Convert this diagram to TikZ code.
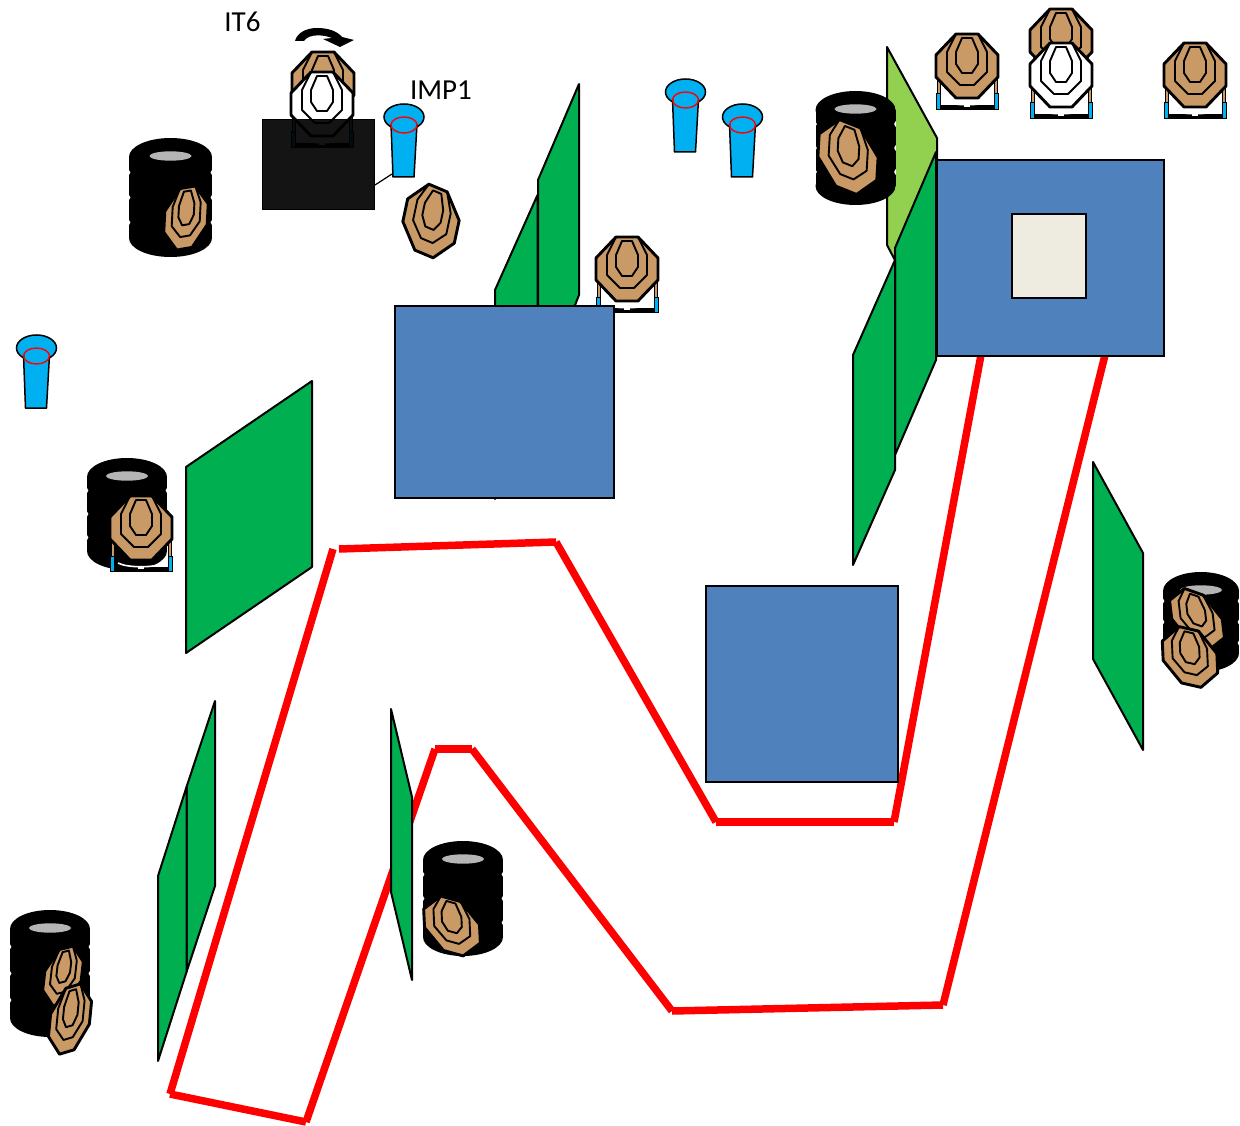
\documentclass[tikz,border=0pt]{standalone}
\usepackage{fontspec}
\setmainfont{Carlito}
\definecolor{tan}{HTML}{C99A66}
\definecolor{boxblue}{HTML}{4F81BD}
\definecolor{panelgreen}{HTML}{00B050}
\definecolor{lightpanel}{HTML}{92D050}
\definecolor{coneblue}{HTML}{00B0F0}
\definecolor{cream}{HTML}{EEECE1}
\definecolor{holegrey}{HTML}{B5B5B5}
\tikzset{
  panel/.style={draw=black,line width=2pt,line join=round,fill=panelgreen},
  lightp/.style={panel,fill=lightpanel},
  bluebox/.style={draw=black,line width=1.8pt,fill=boxblue},
  redline/.style={draw=red,line width=7.5pt},
  outerring/.style={draw=black,line width=2.9pt,line join=round},
  innerring/.style={draw=black,line width=1.9pt,line join=round},
  labeltext/.style={font=\fontsize{29}{33}\selectfont,inner sep=0pt},
}
% target: cx cy a b c d fill (px-down linear map of local coords)
\newcommand{\tgt}[7]{%
  \begin{scope}[shift={(#1,#2)},cm={#3,-#4,-#5,#6,(0,0)}]
    \draw[outerring,fill=#7] (-11,-32)--(11,-32)--(31,-11)--(31,11)--(11,32)--(-11,32)--(-31,11)--(-31,-11)--cycle;
    \draw[innerring] (-11,-32)--(-20,-14)--(-20,6)--(-7,19)--(7,19)--(20,6)--(20,-14)--(11,-32);
    \draw[innerring] (-5,-28)--(5,-28)--(11,-14)--(11,-2)--(5,7)--(-5,7)--(-11,-2)--(-11,-14)--cycle;
  \end{scope}}
% stand, drawn before its target
\newcommand{\stand}[2]{%
  \begin{scope}[shift={(#1,#2)}]
    \draw[draw=black,fill=tan,line width=.7pt] (-30,10) rectangle (-27,29);
    \draw[draw=black,fill=tan,line width=.7pt] (27,10) rectangle (30,29);
    \fill[black] (-31.5,39) rectangle (31.5,44);
    \fill[white] (-3,39) rectangle (3,41);
    \draw[white,line width=1.6pt] (-23,35) .. controls (-14,40) and (14,40) .. (23,35);
    \draw[black,fill=coneblue,line width=1pt] (-31,28) rectangle (-27,43.5);
    \draw[black,fill=coneblue,line width=1pt] (27,28) rectangle (31,43.5);
  \end{scope}}
% tyre stack: cx top bottom rx
\newcommand{\tire}[4]{%
  \fill[black] (#1,#2+19) ellipse[x radius=#4,y radius=19];
  \fill[black] (#1,#3-19) ellipse[x radius=#4,y radius=19];
  \fill[black] (#1-#4,#2+19) rectangle (#1+#4,#3-19);
  \foreach \f in {.29,.5,.71}{
    \pgfmathsetmacro{\ny}{#2+\f*(#3-#2)}
    \fill[white] (#1-#4-.3,\ny-3) -- (#1-#4+1.4,\ny) -- (#1-#4-.3,\ny+3) -- cycle;
    \fill[white] (#1+#4+.3,\ny-3) -- (#1+#4-1.4,\ny) -- (#1+#4+.3,\ny+3) -- cycle;
  }
  \fill[holegrey] (#1,#2+18) ellipse[x radius=21,y radius=4.7];}
% cone: cx top
\newcommand{\cone}[2]{%
  \draw[black,fill=coneblue,line width=1.5pt] (#1,#2+13) ellipse[x radius=20,y radius=13];
  \draw[black,fill=coneblue,line width=1.5pt,line join=round] (#1-13,#2+20) -- (#1-11,#2+73) -- (#1+10,#2+73) -- (#1+13,#2+20);
  \fill[coneblue] (#1-12,#2+20) rectangle (#1+12,#2+22);
  \draw[red,line width=1.4pt] (#1,#2+21) ellipse[x radius=13,y radius=8];}
\begin{document}
\begin{tikzpicture}[x=1pt,y=-1pt]
\useasboundingbox (0,0) rectangle (1240,1126);
% red course
\coordinate (r1) at (333,549); \coordinate (r2) at (170,1094); \coordinate (r3) at (306,1122);
\coordinate (r4) at (435,749); \coordinate (r5) at (472,749); \coordinate (r6) at (672,1011);
\coordinate (r7) at (943,1005); \coordinate (r8) at (1105,355);
\coordinate (s1) at (339,549); \coordinate (s2) at (556,542); \coordinate (s3) at (716,822);
\coordinate (s4) at (894,822); \coordinate (s5) at (981,355);
\draw[redline] (r1)--(r2); \draw[redline] (r2)--(r3); \draw[redline] (r3)--(r4);
\draw[redline] (r4)--(r5); \draw[redline] (r5)--(r6); \draw[redline] (r6)--(r7); \draw[redline] (r7)--(r8);
\draw[redline] (s1)--(s2); \draw[redline] (s2)--(s3); \draw[redline] (s3)--(s4); \draw[redline] (s4)--(s5);
% panels
\draw[panel] (537.5,195)--(495,290)--(495,499)--(537.5,400)--cycle;
\draw[panel] (579,84)--(538,180)--(538,400)--(579,295)--cycle;
\draw[panel] (312,381)--(186,467)--(186,653)--(312,567)--cycle;
\draw[lightp] (887,47)--(937,138)--(937,340)--(887,245)--cycle;
\draw[panel] (936,152)--(895,248)--(895,455)--(936,360)--cycle;
\draw[panel] (895,260)--(853,355)--(853,565)--(895,470)--cycle;
\draw[panel] (1093,462)--(1143,553)--(1143,750)--(1093,659)--cycle;
\draw[panel] (215,701)--(186.5,787)--(186.5,972)--(215,886)--cycle;
\draw[panel] (186.5,787)--(158,876)--(158,1061)--(186.5,972)--cycle;
\draw[panel] (391,709)--(412,797)--(412,980)--(391,892)--cycle;
% target behind box
\stand{627}{269}\tgt{627}{269}{1}{0}{0}{1}{tan}
% boxes
\node[bluebox,minimum width=219pt,minimum height=192pt,inner sep=0pt,anchor=north west] (boxa) at (394,305) {};
\node[bluebox,minimum width=227pt,minimum height=196pt,inner sep=0pt,anchor=north west] (boxb) at (936,159) {};
\node[draw=black,line width=1.8pt,fill=cream,minimum width=74pt,minimum height=84pt,inner sep=0pt,anchor=north west] (port) at (1011,213) {};
\node[bluebox,minimum width=192pt,minimum height=196pt,inner sep=0pt,anchor=north west] (boxc) at (705,585) {};
% tyres with targets
\tire{170.5}{138}{257}{41.5}
\tgt{186}{218}{.7}{-.12}{-.05}{.96}{tan}
\tire{127}{458}{570}{40}
\stand{141}{528}\tgt{141}{528}{1}{0}{0}{1}{tan}
\tire{855.5}{91}{205}{40}
\tgt{848}{157}{.95}{.38}{-.06}{1.04}{tan}
\tire{50}{910}{1037}{40}
\tgt{63}{976}{.62}{-.15}{-.1}{.88}{tan}
\tgt{70}{1019}{.66}{-.2}{-.1}{1.03}{tan}
\tire{463}{841}{956}{40}
\tgt{452}{926}{.9}{.25}{.04}{.85}{tan}
\tire{1201}{572}{672}{38}
\tgt{1197}{619}{.85}{.3}{.1}{.85}{tan}
\tgt{1190}{657}{.88}{.2}{.04}{.88}{tan}
% free target
\tgt{431}{221}{.83}{.35}{-.22}{1.03}{tan}
% top right targets
\stand{967}{66}\tgt{967}{66}{1}{0}{0}{1}{tan}
\tgt{1061}{41}{1}{0}{0}{1}{tan}
\stand{1061}{75}\tgt{1061}{75}{1}{0}{0}{1}{white}
\stand{1195}{75}\tgt{1195}{75}{1}{0}{0}{1}{tan}
% IT6 group
\tgt{323}{84}{1}{0}{0}{1}{tan}
\stand{322}{104}\tgt{322}{104}{1}{0}{0}{1}{white}
\node[draw=black,line width=1pt,fill=black,fill opacity=.92,minimum width=112pt,minimum height=90pt,inner sep=0pt,anchor=north west] (sq) at (262,119.5) {};
\fill[black] (295,41) .. controls (297,33) and (306,28) .. (317,28)
   .. controls (328,28) and (337,31) .. (342,37) -- (354,40) -- (340,47) -- (323,39) -- (332,38)
   .. controls (325,35) and (309,33) .. (304,41) -- cycle;
% cones
\cone{404}{104}\cone{685.5}{79}\cone{742.5}{104}\cone{36.5}{335}
\coordinate (linkend) at (392,174);
\coordinate (linkstart) at (sq.east|-0,185);
\draw[black,line width=1.2pt] (linkstart) -- (linkend);
% labels
\node[labeltext] (it6) at (242.5,22) {IT6};
\node[labeltext] (imp1) at (441,90) {IMP1};
\end{tikzpicture}
\end{document}
